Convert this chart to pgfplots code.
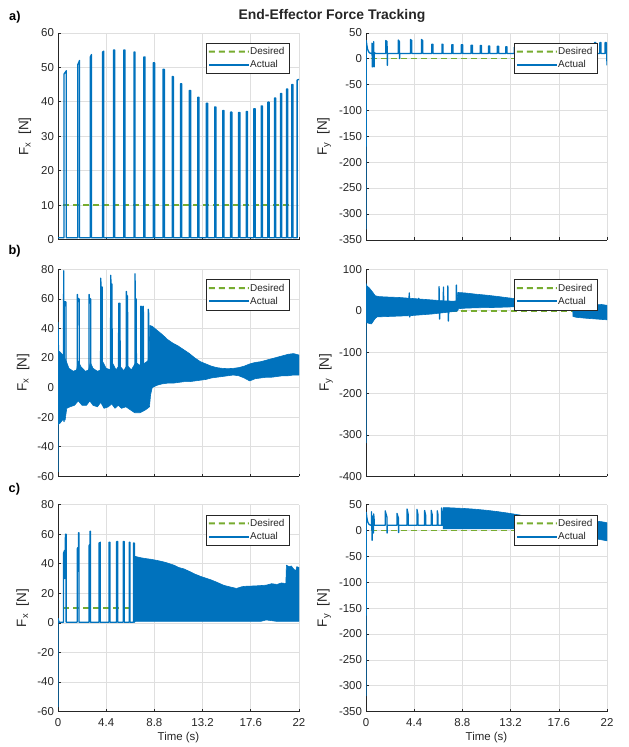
\documentclass[border=0pt]{standalone}
\usepackage{pgfplots}
\pgfplotsset{compat=1.18}
\usepackage{fontspec}
\setmainfont{Liberation Sans}

\definecolor{mblue}{RGB}{0,114,189}
\definecolor{mgreen}{RGB}{119,172,48}
\definecolor{axgray}{RGB}{38,38,38}
\definecolor{gridgray}{RGB}{223,223,223}

\tikzset{
  desired/.style={draw=mgreen, line width=1.6bp, dash pattern=on 6bp off 4bp},
  actual/.style={draw=mblue, line width=1.3bp, line join=round},
  band/.style={draw=mblue, fill=mblue, line width=0.6bp, line join=round},
}

\pgfplotsset{
  forcepanel/.style={
    scale only axis,
    width=241bp, height=207bp,
    xmin=0, xmax=22,
    axis x line*=bottom, axis y line*=left,
    axis line style={axgray, line width=0.6bp},
    xtick={0,4.4,8.8,13.2,17.6,22},
    xticklabels={},
    tick align=inside,
    major tick length=2.6bp,
    tick style={axgray, line width=0.6bp},
    grid=major,
    major grid style={gridgray, line width=0.6bp},
    ticklabel style={font=\fontsize{11.5}{13}\selectfont, text=axgray},
    yticklabel style={xshift=-0.5bp},
    xticklabel style={yshift=-3.5bp},
    xlabel style={font=\fontsize{11.5}{13}\selectfont, text=axgray},
    ylabel style={font=\fontsize{13.5}{15}\selectfont, text=axgray},
    legend cell align=left,
    legend style={at={(1,1)}, anchor=north east, xshift=-10bp, yshift=-10bp,
      draw=axgray, fill=white,
      font=\fontsize{10}{11}\selectfont, text=axgray,
      inner xsep=3bp, inner ysep=2bp, row sep=0bp,
      nodes={inner xsep=1.3bp, inner ysep=1.5bp, text height=8bp, text depth=2.3bp}},
  },
  % legend samples: plain filled strips, no outline
  desiredkey/.style={legend image code/.code={
    \path[fill=mgreen, draw=none]
      (0bp,-1bp) rectangle (6bp,1bp) (10bp,-1bp) rectangle (16bp,1bp)
      (20bp,-1bp) rectangle (26bp,1bp) (30bp,-1bp) rectangle (36bp,1bp)
      (39bp,-1bp) rectangle (40bp,1bp);}},
  actualkey/.style={legend image code/.code={
    \path[fill=mblue, draw=none] (0bp,-1bp) rectangle (40bp,1bp);}},
  fxlim/.style={ymin=-60, ymax=80, ytick={-60,-40,...,80},
    yticklabels={-60,-40,-20,0,20,40,60,80}},
  fylim/.style={ymin=-350, ymax=50, ytick={-350,-300,...,50},
    yticklabels={-350,-300,-250,-200,-150,-100,-50,0,50}},
}
\newcommand{\Fx}{F\textsubscript{x}\hspace{0.55em}[N]}
\newcommand{\Fy}{F\textsubscript{y}\hspace{0.55em}[N]}

\begin{document}
\begin{tikzpicture}
\useasboundingbox (0,0) rectangle (629bp,-747bp);

% ---------------- a) Fx ----------------
\begin{axis}[forcepanel, at={(58bp,-32.8bp)}, anchor=north west,
  ymin=0, ymax=60, ytick={0,10,...,60}, yticklabels={0,10,20,30,40,50,60},
  ylabel={\Fx},
  ylabel style={at={(axis description cs:-0.137,0.5)}, anchor=center}]
\addplot[desired, desiredkey] coordinates {(0.46,10) (21.2,10)};
\addlegendentry{Desired}
\addplot[actual, actualkey] coordinates {
(0,0.6) (0.54,0.6) (0.54,48) (0.76,49) (0.76,0.6)
(1.81,0.6) (1.81,50.8) (1.97,52) (1.97,0.6)
(2.95,0.6) (2.95,53) (3.06,53.7) (3.06,0.6)
(4.06,0.6) (4.06,54.4) (4.18,54.7) (4.18,0.6)
(5.06,0.6) (5.06,55) (5.18,55) (5.18,0.6)
(6.01,0.6) (6.01,55) (6.11,55) (6.11,0.6)
(6.93,0.6) (6.93,54.4) (7.03,54.4) (7.03,0.6)
(7.84,0.6) (7.84,53) (7.95,53) (7.95,0.6)
(8.70,0.6) (8.70,51.3) (8.82,51.3) (8.82,0.6)
(9.58,0.6) (9.58,49.4) (9.71,49.4) (9.71,0.6)
(10.43,0.6) (10.43,47.3) (10.53,47.3) (10.53,0.6)
(11.18,0.6) (11.18,45.2) (11.30,45.2) (11.30,0.6)
(11.99,0.6) (11.99,43.3) (12.11,43.3) (12.11,0.6)
(12.75,0.6) (12.75,41.3) (12.87,41.3) (12.87,0.6)
(13.54,0.6) (13.54,39.6) (13.66,39.6) (13.66,0.6)
(14.30,0.6) (14.30,38.5) (14.42,38.5) (14.42,0.6)
(15.05,0.6) (15.05,37.5) (15.15,37.5) (15.15,0.6)
(15.75,0.6) (15.75,37.0) (15.88,37.0) (15.88,0.6)
(16.48,0.6) (16.48,36.9) (16.61,36.9) (16.61,0.6)
(17.18,0.6) (17.18,37.2) (17.30,37.2) (17.30,0.6)
(17.87,0.6) (17.87,38.0) (18.00,38.0) (18.00,0.6)
(18.55,0.6) (18.55,38.8) (18.67,38.8) (18.67,0.6)
(19.15,0.6) (19.15,39.9) (19.28,39.9) (19.28,0.6)
(19.76,0.6) (19.76,41.1) (19.88,41.1) (19.88,0.6)
(20.31,0.6) (20.31,42.4) (20.43,42.4) (20.43,0.6)
(20.86,0.6) (20.86,43.7) (20.98,43.7) (20.98,0.6)
(21.34,0.6) (21.34,45.0) (21.46,45.0) (21.46,0.6)
(21.83,0.6) (21.83,46.3) (22,46.5)};
\addlegendentry{Actual}
\end{axis}

% ---------------- a) Fy ----------------
\begin{axis}[forcepanel, fylim, at={(366bp,-32.8bp)}, anchor=north west,
  ylabel={\Fy},
  ylabel style={at={(axis description cs:-0.174,0.5)}, anchor=center}]
\addplot[desired, desiredkey] coordinates {(0.46,0) (21.2,0)};
\addlegendentry{Desired}
\addplot[actual, actualkey] coordinates {
(0,-330) (0.02,35) (0.08,26) (0.15,18) (0.25,13) (0.38,10.5) (0.54,10)
(0.54,30) (0.58,-16) (0.62,28) (0.66,-14) (0.70,33) (0.74,-16) (0.76,12) (0.85,10)
(1.81,10) (1.81,35) (1.92,33) (1.95,-13) (1.97,10)
(2.95,10) (2.95,36) (3.05,33) (3.07,0) (3.09,10)
(4.06,10) (4.06,37) (4.18,35) (4.18,10)
(5.06,10) (5.06,37) (5.18,35) (5.18,10)
(6.01,10) (6.01,28) (6.11,28) (6.11,10)
(6.93,10) (6.93,28) (7.03,28) (7.03,10)
(7.84,10) (7.84,27) (7.95,27) (7.95,10)
(8.70,10) (8.70,27) (8.82,27) (8.82,10)
(9.58,10) (9.58,26) (9.71,26) (9.71,10)
(10.43,10) (10.43,25.5) (10.53,25.5) (10.53,10)
(11.18,10) (11.18,24.5) (11.30,24.5) (11.30,10)
(11.99,10) (11.99,24) (12.11,24) (12.11,10)
(12.75,10) (12.75,23) (12.87,23) (12.87,10)
(13.54,10) (13.54,22) (13.66,22) (13.66,10)
(14.30,10) (14.30,22) (14.42,22) (14.42,10)
(15.05,10) (15.05,22) (15.15,22) (15.15,10)
(15.75,10) (15.75,22) (15.88,22) (15.88,10)
(16.48,10) (16.48,23) (16.61,23) (16.61,10)
(17.18,10) (17.18,24) (17.30,24) (17.30,10)
(17.87,10) (17.87,25) (18.00,25) (18.00,10)
(18.55,10) (18.55,26) (18.67,26) (18.67,10)
(19.15,10) (19.15,27) (19.28,27) (19.28,10)
(19.76,10) (19.76,28) (19.88,28) (19.88,10)
(20.31,10) (20.31,29) (20.43,29) (20.43,10)
(20.86,10) (20.86,31) (20.98,31) (20.98,10)
(21.34,10) (21.34,31) (21.46,31) (21.46,10)
(21.83,10) (21.83,31) (21.95,31) (22,-13)};
\addlegendentry{Actual}
\end{axis}

% ---------------- b) Fx ----------------
\begin{axis}[forcepanel, fxlim, at={(58bp,-269.3bp)}, anchor=north west,
  ylabel={\Fx},
  ylabel style={at={(axis description cs:-0.145,0.5)}, anchor=center}]
\addplot[desired, desiredkey] coordinates {(0.46,10) (21.2,10)};
\addlegendentry{Desired}
\addplot[band, forget plot] coordinates {
(0,25) (0.2,24) (0.45,22) (0.6,20) (0.8,17) (1.0,13) (1.4,11) (1.7,12) (1.85,18)
(2.1,14) (2.5,11) (2.8,12) (2.95,17) (3.2,13) (3.6,11) (3.9,12) (4.05,18) (4.4,13)
(4.8,12) (4.95,17) (5.3,12) (5.6,15) (6.0,11.5) (6.3,15) (6.7,12) (7.1,17) (7.5,15)
(7.8,16) (8.2,18) (8.32,22) (8.38,42) (8.6,41.5) (9.0,39) (9.5,36) (10.0,32.5)
(10.5,30) (11.0,28) (11.5,25.5) (12.0,23) (12.5,20) (13.0,17.5) (13.5,16) (14.0,14.5)
(14.5,13.5) (15.0,13) (15.5,12.8) (16.0,13) (16.5,13.5) (17.0,14.5) (17.5,16) (18.0,17)
(18.5,17.5) (19.0,18.5) (19.5,19.5) (20.0,20.5) (20.5,21.5) (21.0,22.5) (21.5,23) (22,22)
(22,8.5) (21.5,8.5) (21,8) (20.5,8) (20,7.5) (19.5,7) (19,7) (18.5,6.5) (18,6) (17.5,4.5)
(17,6.5) (16.5,8) (16,8.5) (15.5,8) (15,7.5) (14.5,7) (14,6.5) (13.5,5.5) (13,5)
(12.5,4.5) (12,4) (11.5,4) (11,3.5) (10.5,3) (10,3) (9.5,2.5) (9.0,1.5) (8.6,0)
(8.45,-5) (8.35,-13) (8.0,-15) (7.5,-17) (7.0,-17) (6.6,-15) (6.2,-13) (5.8,-14)
(5.5,-12) (5.2,-14) (4.9,-11) (4.6,-13) (4.2,-14) (3.9,-10) (3.6,-13) (3.2,-12)
(2.9,-9) (2.6,-12) (2.2,-12) (1.85,-9) (1.5,-12) (1.1,-13) (0.8,-14) (0.65,-22)
(0.4,-22) (0.2,-24) (0,-25)} -- cycle;
\addplot[actual, actualkey] coordinates {
(0,-57) (0,44) (0.05,20) (0.5,5) (0.52,79) (0.55,-23) (0.58,58) (0.72,58) (0.74,5)
(1.76,5) (1.77,63) (1.80,60) (1.93,60) (1.95,0)
(2.83,0) (2.84,63) (2.87,60) (2.98,60) (3.0,0)
(3.89,0) (3.90,74) (3.93,68) (4.03,68) (4.05,0)
(4.80,0) (4.81,76) (4.84,70) (4.93,70) (4.95,0)
(5.53,0) (5.54,57) (5.66,57) (5.68,0)
(6.23,0) (6.24,65) (6.27,62) (6.35,62) (6.37,0)
(7.02,0) (7.03,77) (7.06,60) (7.14,60) (7.16,0)
(7.55,0) (7.56,55) (7.60,55) (7.62,0)
(7.74,0) (7.75,55) (7.79,55) (7.81,0)
(8.23,0) (8.24,53) (8.28,50) (8.30,0) (8.32,5)};
\addlegendentry{Actual}
\end{axis}

% ---------------- b) Fy ----------------
\begin{axis}[forcepanel, at={(366bp,-269.3bp)}, anchor=north west,
  ymin=-400, ymax=100, ytick={-400,-300,...,100},
  yticklabels={-400,-300,-200,-100,0,100},
  ylabel={\Fy},
  ylabel style={at={(axis description cs:-0.166,0.5)}, anchor=center}]
\addplot[desired, desiredkey] coordinates {(0.46,0) (21.2,0)};
\addlegendentry{Desired}
\addplot[band, forget plot] coordinates {
(0,62) (0.3,55) (0.6,45) (0.85,36) (1.2,34) (2.0,33) (3.0,32) (4.0,30) (5.0,28)
(6.0,26) (7.0,24) (8.0,23) (8.3,24) (8.38,44) (9.0,43) (10,40) (11,37.5) (12,34.5)
(13,31) (14,28) (15,25) (16,22) (17,19.5) (18,17) (18.8,15) (18.9,13) (19.5,12)
(20.5,13) (21.5,15) (22,13)
(22,-22) (21.5,-21) (21,-20) (20,-18) (19.2,-16) (18.9,-14) (18.85,9) (18,9.5)
(16,9.5) (14,9.5) (13,9) (12,8) (11,7.5) (10,7) (9,6) (8.45,5) (8.35,-1) (8.0,-2)
(7.0,-5) (6.0,-8) (5.0,-10) (4.0,-12) (3.0,-13) (2.0,-14) (1.0,-15) (0.8,-20)
(0.5,-32) (0.2,-30) (0,-28)} -- cycle;
\addplot[actual, actualkey] coordinates {
(0,-320) (0,65) (0.1,40) (0.3,20) (3.9,10) (3.95,43) (4.0,-15) (4.05,10)
(4.8,10) (4.82,30) (4.85,10) (6.65,10) (6.67,58) (6.72,-20) (6.76,10)
(7.05,10) (7.07,57) (7.1,10) (7.45,10) (7.47,60) (7.52,-25) (7.56,10)
(8.23,10) (8.25,62) (8.3,15)};
\addlegendentry{Actual}
\end{axis}

% ---------------- c) Fx ----------------
\begin{axis}[forcepanel, fxlim, at={(58bp,-504.6bp)}, anchor=north west,
  xticklabels={0,4.4,8.8,13.2,17.6,22},
  xlabel={Time (s)},
  xlabel style={at={(axis description cs:0.5,-0.126)}, anchor=center},
  ylabel={\Fx},
  ylabel style={at={(axis description cs:-0.147,0.5)}, anchor=center}]
\addplot[desired, desiredkey] coordinates {(0.46,10) (21.2,10)};
\addlegendentry{Desired}
\addplot[band, forget plot] coordinates {
(7.05,45) (7.3,44.5) (7.6,44) (8.0,43.5) (8.5,43) (9.0,42.3) (9.5,41.5) (10.0,40.5)
(10.6,39) (11.0,37.5) (11.5,36.5) (12.0,34.8) (12.5,33) (13.0,31.5) (13.6,30) (14.0,29)
(14.5,27.5) (15.1,25.5) (15.6,24.5) (16.3,23.3) (16.8,24.5) (17.2,24.8) (18.0,25)
(19.0,25.5) (19.5,26.5) (20.0,26) (20.4,27) (20.8,26.6) (20.85,39) (21.1,38)
(21.3,38.5) (21.5,36.5) (21.7,35) (21.8,38) (22,37.5)
(22,1) (20,1) (19,2) (18.5,1) (10,1) (7.05,1)} -- cycle;
\addplot[actual, actualkey] coordinates {
(0,-57) (0,3) (0.1,0.5) (0.50,0.5) (0.50,47) (0.60,49) (0.62,30) (0.68,60) (0.74,60) (0.74,0.5)
(1.75,0.5) (1.75,50) (1.82,51) (1.84,35) (1.88,61) (1.91,61) (1.91,0.5)
(2.83,0.5) (2.83,52) (2.88,53) (2.90,40) (2.93,62) (2.96,62) (2.96,0.5)
(3.75,0.5) (3.75,54) (3.86,54.5) (3.86,0.5)
(4.65,0.5) (4.65,54.5) (4.75,54.5) (4.75,0.5)
(5.35,0.5) (5.35,55) (5.45,55) (5.45,0.5)
(5.95,0.5) (5.95,55) (6.05,55) (6.05,0.5)
(6.50,0.5) (6.50,54.5) (6.58,54.5) (6.58,0.5)
(6.90,0.5) (6.90,54) (6.97,54) (6.97,0.5) (7.05,1.5)};
\addlegendentry{Actual}
\end{axis}

% ---------------- c) Fy ----------------
\begin{axis}[forcepanel, fylim, at={(366bp,-504.6bp)}, anchor=north west,
  xticklabels={0,4.4,8.8,13.2,17.6,22},
  xlabel={Time (s)},
  xlabel style={at={(axis description cs:0.5,-0.126)}, anchor=center},
  ylabel={\Fy},
  ylabel style={at={(axis description cs:-0.174,0.5)}, anchor=center}]
\addplot[desired, desiredkey] coordinates {(0.46,0) (21.2,0)};
\addlegendentry{Desired}
\addplot[band, forget plot] coordinates {
(7.05,44) (7.5,44) (8,43.5) (9,42.5) (10,41) (11,39) (12,36.5) (13,33.5) (14,30)
(15,26) (16,23) (17,20.5) (18,18.5) (19,17.5) (20,17) (20.6,17) (21,18) (21.5,17) (22,15)
(22,-20) (21.5,-18) (21,-16) (20.6,-12) (20.4,2) (19,3) (15,3) (10,3) (7.05,3)} -- cycle;
\addplot[actual, actualkey] coordinates {
(0,-320) (0.02,35) (0.08,25) (0.15,17) (0.25,12.5) (0.38,10.5) (0.50,10)
(0.50,36) (0.56,-19) (0.62,28) (0.68,-5) (0.70,32) (0.74,22) (0.74,10)
(1.75,10) (1.75,38) (1.91,26) (1.93,-5) (1.95,10)
(2.83,10) (2.83,33) (2.96,24) (2.98,-4) (3.0,10)
(3.75,10) (3.75,41.5) (3.86,30) (3.86,10)
(4.65,10) (4.65,41) (4.75,30) (4.75,10)
(5.35,10) (5.35,38.5) (5.45,29) (5.45,10)
(5.95,10) (5.95,39) (6.05,30) (6.05,10)
(6.50,10) (6.50,38) (6.58,30) (6.58,10)
(6.90,10) (6.90,43.5) (6.97,35) (6.97,10) (7.05,10)};
\addlegendentry{Actual}
\end{axis}

% figure title and panel letters
\node[anchor=base, font=\bfseries\fontsize{14}{16}\selectfont, text=axgray]
  at (332bp,-19.5bp) {End-Effector Force Tracking};
\node[anchor=base west, font=\bfseries\fontsize{12.8}{14}\selectfont, inner sep=0pt]
  at (9bp,-20bp) {a)};
\node[anchor=base west, font=\bfseries\fontsize{12.8}{14}\selectfont, inner sep=0pt]
  at (8.5bp,-254bp) {b)};
\node[anchor=base west, font=\bfseries\fontsize{12.8}{14}\selectfont, inner sep=0pt]
  at (8.5bp,-492bp) {c)};
\end{tikzpicture}
\end{document}
